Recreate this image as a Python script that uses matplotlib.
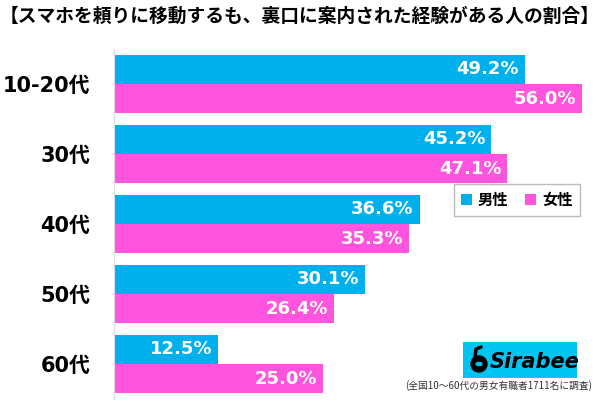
import numpy as np
import matplotlib.pyplot as plt
from matplotlib.patches import Rectangle, Circle, Ellipse

plt.rcParams['font.family'] = ['Noto Sans CJK JP', 'DejaVu Sans']

# data
ages = ['10-20代', '30代', '40代', '50代', '60代']
male = [49.2, 45.2, 36.6, 30.1, 12.5]
female = [56.0, 47.1, 35.3, 26.4, 25.0]
title = '【スマホを頼りに移動するも、裏口に案内された経験がある人の割合】'
note = '(全国10〜60代の男女有職者1711名に調査)'

blue = '#00b0ec'
pink = '#ff55de'

fig = plt.figure(figsize=(6, 4.03), dpi=100)
W, H = 600, 403
# axes: left at 114px, top 49px, bottom 399px
ax = fig.add_axes([114 / W, 1 - 399 / H, 1 - 114 / W, 350 / H])

y = np.arange(len(ages))
h = 29 / 70
ax.barh(y - h / 2, male, height=h, color=blue)
ax.barh(y + h / 2, female, height=h, color=pink)

for i in range(len(ages)):
    ax.text(male[i] - 0.7, y[i] - h / 2, f'{male[i]:.1f}%', ha='right', va='center',
            color='white', fontsize=13, fontweight='bold', family='DejaVu Sans')
    ax.text(female[i] - 0.7, y[i] + h / 2, f'{female[i]:.1f}%', ha='right', va='center',
            color='white', fontsize=13, fontweight='bold', family='DejaVu Sans')

ax.set_xlim(0, 486 / 8.35)
ax.set_ylim(len(ages) - 0.5, -0.5)
ax.set_xticks([])
ax.set_yticks(y)
ax.set_yticklabels(ages, fontsize=15, fontweight='bold', family=['DejaVu Sans', 'Noto Sans CJK JP'])
ax.tick_params(axis='y', length=0, pad=17)
for s in ['top', 'right', 'bottom']:
    ax.spines[s].set_visible(False)
ax.spines['left'].set_color('#dddddd')

fig.text(0.5, 1 - 16 / H, title, ha='center', va='center', fontsize=13.5, fontweight='bold')

leg = ax.legend(['男性', '女性'], loc='center', bbox_to_anchor=((517 - 114) / 486, 1 - (200 - 49) / 350),
                bbox_transform=ax.transAxes, ncol=2, fontsize=11, handlelength=0.7, handleheight=0.7,
                handletextpad=0.4, columnspacing=1.1, fancybox=False, edgecolor='#aaaaaa',
                borderpad=0.5)
for t in leg.get_texts():
    t.set_fontweight('bold')

# Sirabee logo box
logo = fig.add_axes([463 / W, 1 - 378 / H, 114 / W, 36 / H])
logo.set_xlim(0, 114)
logo.set_ylim(0, 36)
logo.axis('off')
logo.add_patch(Rectangle((0, 0), 114, 36, color='#00c4f2'))
logo.add_patch(Circle((16, 14), 8, color='black'))
logo.add_patch(Ellipse((16, 14), 6, 3, color='#00c4f2'))
logo.plot([12, 13, 18], [20, 29, 31], color='black', lw=2.5, solid_capstyle='round')
logo.text(27, 16, 'Sirabee', fontsize=15, fontweight='bold', style='italic',
          va='center', ha='left', family='DejaVu Sans')

fig.text(592 / W, 1 - 386 / H, note, ha='right', va='center', fontsize=7, color='#333333')

fig.savefig('out.png', dpi=100)
